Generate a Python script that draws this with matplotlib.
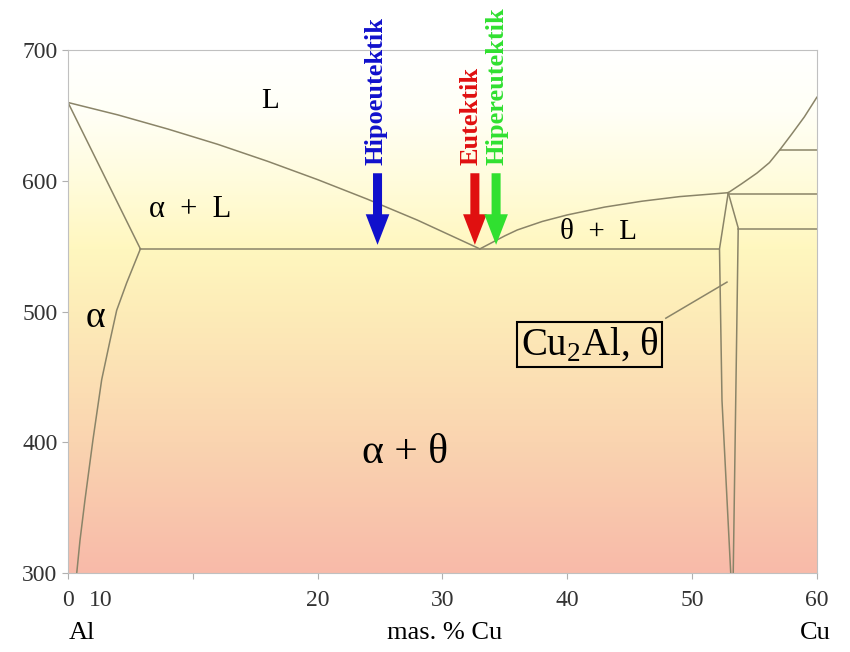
import numpy as np
import matplotlib.pyplot as plt
from matplotlib.colors import LinearSegmentedColormap

plt.rcParams['font.family'] = ['Liberation Serif', 'DejaVu Serif']
plt.rcParams['mathtext.fontset'] = 'custom'
plt.rcParams['mathtext.rm'] = 'Liberation Serif'

# phase boundaries (mas. % Cu, temperature)
liq_left_x = [0, 4, 8, 12, 16, 20, 24, 28, 33]
liq_left_y = [660, 650.5, 639.7, 628, 615, 601, 586, 570, 548]
liq_right_x = [33, 34, 35, 36, 38, 40, 43, 46, 49, 52.9]
liq_right_y = [548, 553, 558, 562.5, 569, 574, 580, 584.5, 588, 591]
liq_upper_x = [52.9, 54, 55.2, 56.2, 57.05, 58, 59, 60]
liq_upper_y = [591, 598, 606, 614, 624, 636, 649, 664]
solidus_x = [0, 5.8]
solidus_y = [660, 548]
solvus_x = [5.8, 4.7, 3.9, 3.37, 2.7, 2.0, 1.36, 0.96, 0.7]
solvus_y = [548, 522, 501, 478, 448, 402, 356, 325, 300]
eutectic_x = [5.8, 52.2]
eutectic_y = [548, 548]
theta_left_x = [52.9, 52.2, 52.4, 53.1]
theta_left_y = [591, 548, 432, 300]
theta_right_x = [52.9, 53.7, 53.3]
theta_right_y = [591, 564, 300]
horiz_lines = [(52.9, 60, 590), (57.05, 60, 624), (53.7, 60, 563.5)]

arrow_x = [24.8, 32.6, 34.3]
arrow_text_x = [24.7, 32.3, 34.4]
arrow_labels = ['Hipoeutektik', 'Eutektik', 'Hipereutektik']
arrow_colors = ['#1010cc', '#e01010', '#30e030']

xticks = [0, 10, 20, 30, 40, 50, 60]
xticklabels = ['0', '', '20', '30', '40', '50', '60']
yticks = [300, 400, 500, 600, 700]

fig = plt.figure(figsize=(8.5, 6.52), dpi=100)
ax = fig.add_axes([0.08, 0.121, 0.881, 0.802])
ax.set_xlim(0, 60)
ax.set_ylim(300, 700)

# background gradient
cmap = LinearSegmentedColormap.from_list('bg', [
    (0.0, '#f8baa9'), (0.25, '#fad4b0'), (0.5, '#fdecb8'),
    (0.62, '#fff7bf'), (0.75, '#fffcdc'), (0.88, '#fffff6'), (1.0, '#ffffff')])
grad = np.linspace(0, 1, 256).reshape(-1, 1)
ax.imshow(grad, aspect='auto', cmap=cmap, origin='lower',
          extent=[0, 60, 300, 700], zorder=0)

lc = '#8a8468'
lw = 1.1
for xs, ys in [(liq_left_x, liq_left_y), (liq_right_x, liq_right_y),
               (liq_upper_x, liq_upper_y), (solidus_x, solidus_y),
               (solvus_x, solvus_y), (eutectic_x, eutectic_y),
               (theta_left_x, theta_left_y), (theta_right_x, theta_right_y)]:
    ax.plot(xs, ys, color=lc, lw=lw, zorder=2)
for x0, x1, y in horiz_lines:
    ax.plot([x0, x1], [y, y], color=lc, lw=lw, zorder=2)

# leader line to theta phase
ax.plot([47.9, 52.8], [495, 522.6], color=lc, lw=lw, zorder=2)

# arrows
for x, tx, lab, c in zip(arrow_x, arrow_text_x, arrow_labels, arrow_colors):
    ax.annotate('', xy=(x, 549), xytext=(x, 608),
                arrowprops=dict(arrowstyle='simple,head_length=2.2,head_width=1.7,tail_width=0.65',
                                mutation_scale=10, color=c, lw=0),
                zorder=4)
    ax.text(tx, 612, lab, rotation=90, ha='center', va='bottom', color=c,
            fontsize=19, fontweight='bold', clip_on=False, zorder=5)

# phase labels
ax.text(16.2, 661, 'L', fontsize=21, ha='center', va='center')
ax.text(9.8, 578, 'α  +  L', fontsize=22, ha='center', va='center')
ax.text(42.5, 561, 'θ  +  L', fontsize=21, ha='center', va='center')
ax.text(2.16, 495, 'α', fontsize=27, ha='center', va='center')
ax.text(27.0, 392, 'α + θ', fontsize=30, ha='center', va='center')
ax.text(41.8, 475, r'Cu$_{2}$Al, θ', fontsize=28, ha='center', va='center',
        bbox=dict(boxstyle='square,pad=0.1', fc='none', ec='black', lw=1.5))

for s in ax.spines.values():
    s.set_color('#c0c0c0')
ax.set_xticks(xticks)
ax.set_xticklabels(xticklabels)
ax.set_xticks([2.6], ['10'], minor=True)
ax.set_yticks(yticks)
ax.tick_params(colors='#b0b0b0', labelcolor='#333333', labelsize=17, length=4)
ax.tick_params(axis='x', pad=8)
ax.tick_params(axis='x', which='minor', length=0, pad=12, labelsize=17,
               labelcolor='#333333')

fig.text(82 / 850, 1 - 633 / 652, 'Al', fontsize=19, ha='center', va='center')
fig.text(445 / 850, 1 - 633 / 652, 'mas. % Cu', fontsize=19, ha='center', va='center')
fig.text(815 / 850, 1 - 633 / 652, 'Cu', fontsize=19, ha='center', va='center')

fig.savefig('out.png', dpi=100)
